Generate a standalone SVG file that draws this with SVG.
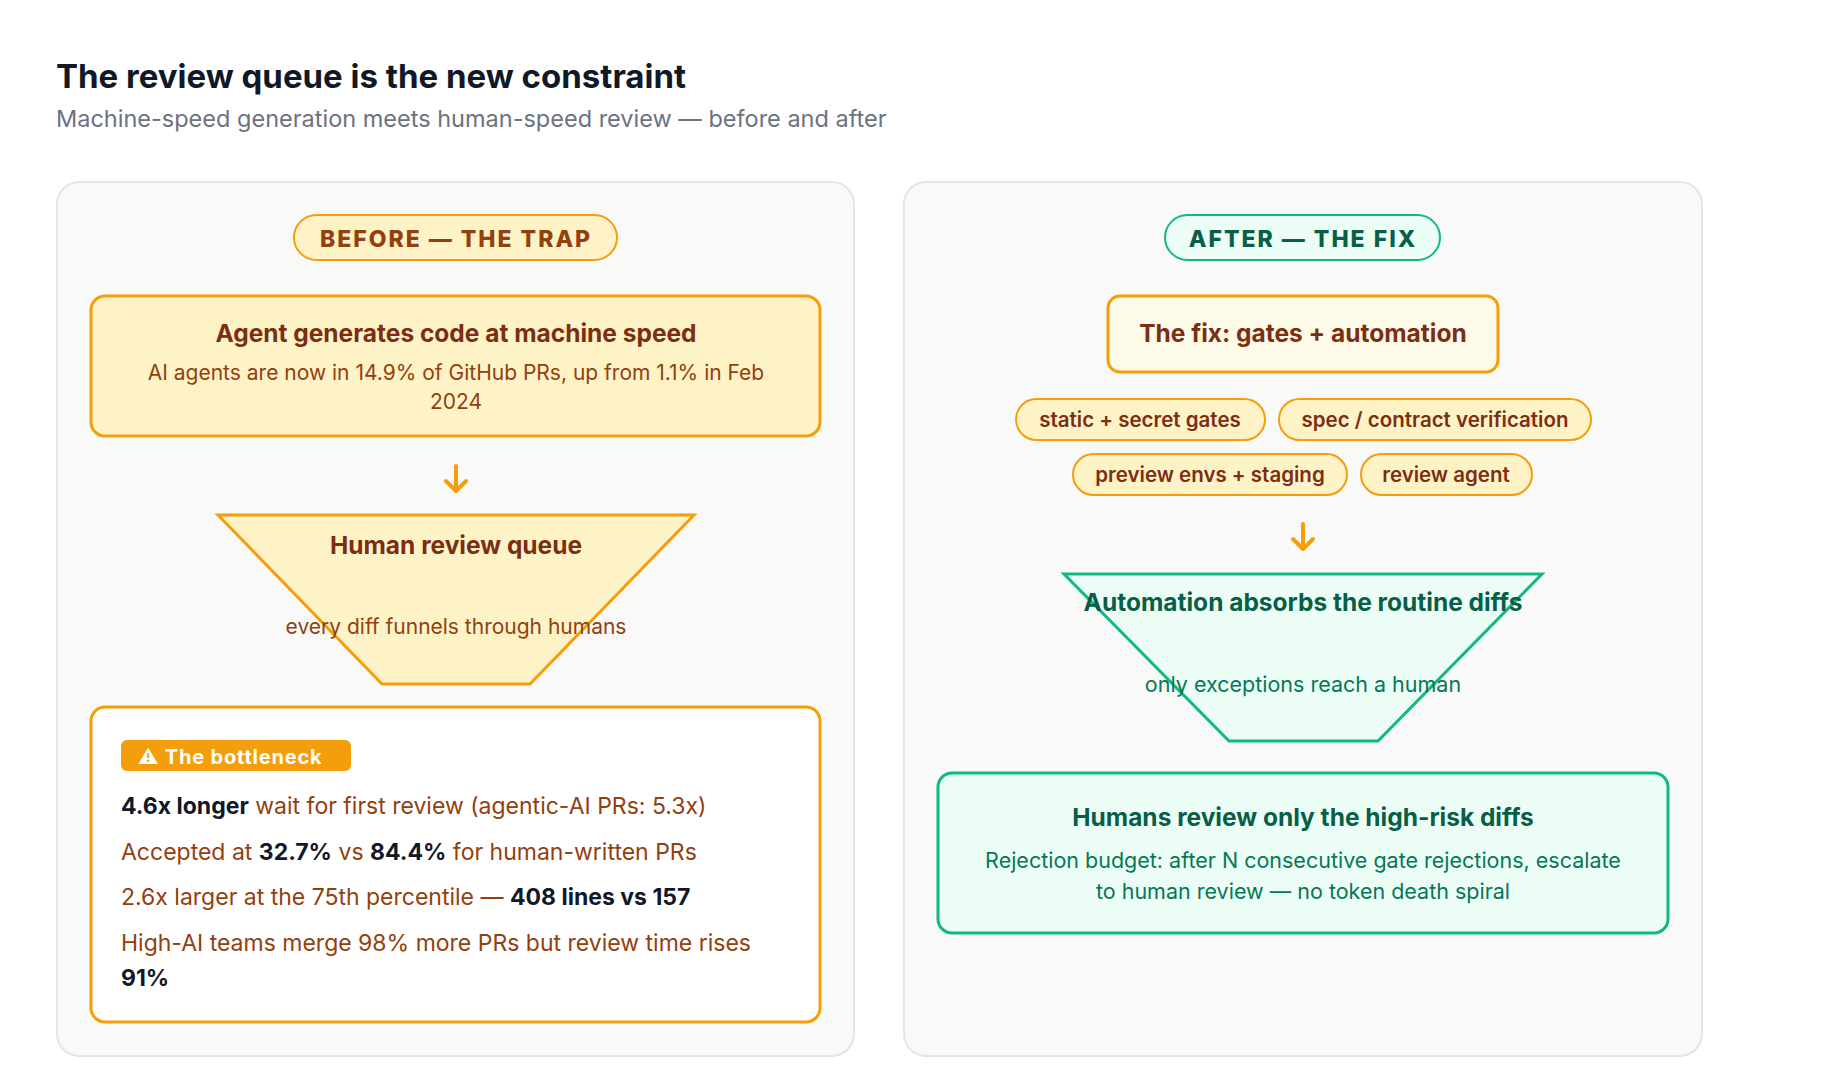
<svg xmlns="http://www.w3.org/2000/svg" width="1840" height="1090" viewBox="0 0 1840 1090">
<defs>
<style>
text{font-family:Inter,"Noto Sans","Liberation Sans",sans-serif}
.panel{fill:#f9f9f7;stroke:#e5e5e5;stroke-width:2}
.o{fill:#fef3c7;stroke:#f59e0b;stroke-width:3}
.g{fill:#ecfdf5;stroke:#10b981;stroke-width:3}
.bt{fill:#7c2d12;font-weight:700;font-size:24.5px;text-anchor:middle}
.bs{fill:#92400e;font-size:21px;text-anchor:middle}
.gt{fill:#065f46;font-weight:700;font-size:24.5px;text-anchor:middle}
.gs{fill:#047857;font-size:21.5px;text-anchor:middle}
.chip{fill:#7c2d12;font-weight:600;font-size:20.5px;text-anchor:middle}
.ln{fill:#92400e;font-size:23px}
.k{fill:#111827;font-weight:700}
.arr{fill:none;stroke:#f59e0b;stroke-width:4;stroke-linecap:round;stroke-linejoin:round}
</style>
</defs>
<rect width="1840" height="1090" fill="#ffffff"/>
<text x="56" y="88" font-size="33" font-weight="700" fill="#111827">The review queue is the new constraint</text>
<text x="56" y="127" font-size="23.5" fill="#6b7280">Machine-speed generation meets human-speed review — before and after</text>

<g id="panel-before"><rect class="panel" x="57" y="182" width="797" height="874" rx="22"/></g>
<g id="panel-after"><rect class="panel" x="904" y="182" width="798" height="874" rx="22"/></g>

<g id="pill-before"><rect x="294" y="215" width="323" height="45" rx="22.5" fill="#fef3c7" stroke="#f59e0b" stroke-width="2"/>
<text x="456" y="247" font-size="23" font-weight="800" letter-spacing="2" fill="#92400e" text-anchor="middle">BEFORE — THE TRAP</text></g>

<g id="agent"><rect class="o" x="91" y="296" width="729" height="140" rx="14"/>
<text class="bt" x="456" y="342">Agent generates code at machine speed</text>
<text class="bs" x="456" y="380">AI agents are now in 14.9% of GitHub PRs, up from 1.1% in Feb</text>
<text class="bs" x="456" y="409">2024</text></g>

<g id="queue"><polygon class="o" points="218,515 694,515 530,684 382,684"/>
<text class="bt" x="456" y="554">Human review queue</text>
<text class="bs" x="456" y="634" font-size="20px">every diff funnels through humans</text></g>

<g id="bottleneck"><rect x="91" y="707" width="729" height="315" rx="14" fill="#ffffff" stroke="#f59e0b" stroke-width="3"/>
<rect x="121" y="740" width="230" height="31" rx="6" fill="#f59e0b"/>
<text x="138" y="764" font-size="20" font-weight="700" letter-spacing="0.8" fill="#ffffff">⚠ The bottleneck</text>
<text class="ln" x="121" y="814"><tspan class="k">4.6x longer</tspan> wait for first review (agentic-AI PRs: 5.3x)</text>
<text class="ln" x="121" y="860">Accepted at <tspan class="k">32.7%</tspan> vs <tspan class="k">84.4%</tspan> for human-written PRs</text>
<text class="ln" x="121" y="905">2.6x larger at the 75th percentile — <tspan class="k">408 lines vs 157</tspan></text>
<text class="ln" x="121" y="951">High-AI teams merge 98% more PRs but review time rises</text>
<text class="ln" x="121" y="986"><tspan class="k">91%</tspan></text></g>

<g id="pill-after"><rect x="1165" y="215" width="275" height="45" rx="22.5" fill="#ecfdf5" stroke="#10b981" stroke-width="2"/>
<text x="1303" y="247" font-size="23" font-weight="800" letter-spacing="2" fill="#065f46" text-anchor="middle">AFTER — THE FIX</text></g>

<g id="fix"><rect x="1108" y="296" width="390" height="76" rx="12" fill="#fefae8" stroke="#f59e0b" stroke-width="3"/>
<text class="bt" x="1303" y="342">The fix: gates + automation</text></g>

<g id="chip-static"><rect x="1016" y="399" width="249" height="41" rx="20.5" fill="#fef3c7" stroke="#f59e0b" stroke-width="2"/><text class="chip" x="1140" y="427">static + secret gates</text></g>
<g id="chip-spec"><rect x="1279" y="399" width="312" height="41" rx="20.5" fill="#fef3c7" stroke="#f59e0b" stroke-width="2"/><text class="chip" x="1435" y="427">spec / contract verification</text></g>
<g id="chip-preview"><rect x="1073" y="454" width="274" height="41" rx="20.5" fill="#fef3c7" stroke="#f59e0b" stroke-width="2"/><text class="chip" x="1210" y="482">preview envs + staging</text></g>
<g id="chip-review"><rect x="1361" y="454" width="171" height="41" rx="20.5" fill="#fef3c7" stroke="#f59e0b" stroke-width="2"/><text class="chip" x="1446" y="482">review agent</text></g>

<g id="automation"><polygon class="g" points="1064,574 1542,574 1378,741 1229,741"/>
<text class="gt" x="1303" y="611">Automation absorbs the routine diffs</text>
<text class="gs" x="1303" y="692" font-size="20px">only exceptions reach a human</text></g>

<g id="humans"><rect class="g" x="938" y="773" width="730" height="160" rx="14"/>
<text class="gt" x="1303" y="826">Humans review only the high-risk diffs</text>
<text class="gs" x="1303" y="868">Rejection budget: after N consecutive gate rejections, escalate</text>
<text class="gs" x="1303" y="899">to human review — no token death spiral</text></g>

<g id="connectors">
<path class="arr" d="M456 466 V491 M446 481 L456 491 L466 481"/>
<path class="arr" d="M1303 524 V549 M1293 539 L1303 549 L1313 539"/>
</g>
</svg>
